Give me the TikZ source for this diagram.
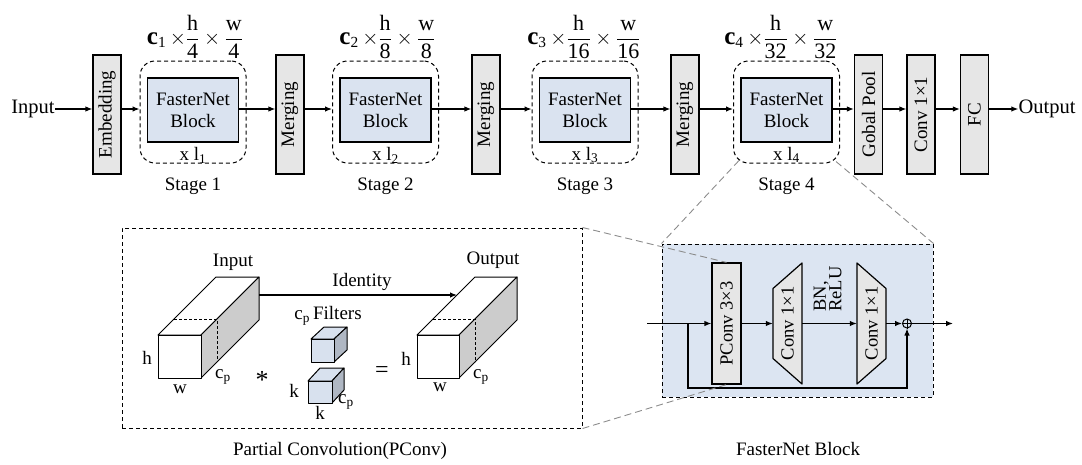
\documentclass[tikz,border=0pt]{standalone}
\usepackage{fontspec}
\usepackage{amsmath}
\setmainfont{Liberation Serif}
\usetikzlibrary{arrows.meta,calc}
\definecolor{boxgrey}{HTML}{E6E6E6}
\definecolor{blockblue}{HTML}{DAE3F0}
\definecolor{panelblue}{HTML}{DCE5F2}
\definecolor{cubegrey}{HTML}{CCCCCC}
\definecolor{filterface}{HTML}{D8E1EE}
\definecolor{filterside}{HTML}{AFB7C3}
\definecolor{zoomline}{HTML}{8C8C8C}
\newcommand{\fsz}[1]{\fontsize{#1}{#1}\selectfont}

\begin{document}
\begin{tikzpicture}[x=1pt,y=-1pt,
  every node/.style={font=\fsz{19}, inner sep=0pt},
  gbox/.style={draw, fill=boxgrey, line width=1.2pt, minimum width=28, minimum height=119},
  blk/.style={draw, fill=blockblue, line width=1.2pt, minimum width=91, minimum height=64,
              align=center, font={\fontsize{19}{22}\selectfont}},
  stagebox/.style={draw, dash pattern=on 4pt off 3pt, line width=1pt, rounded corners=15pt,
                   minimum width=106, minimum height=102},
  panel/.style={draw, dash pattern=on 4pt off 3pt, line width=1pt},
  arr/.style={-{Latex[length=7pt,width=5.5pt]}, line width=1.2pt},
  zoomed/.style={zoomline, dash pattern=on 7pt off 4pt, line width=0.9pt},
  cube/.style={draw, line width=1pt, line join=round},
  tbox/.style={minimum width=29, minimum height=121},
  trap/.style={draw, fill=boxgrey, line width=1.2pt, line join=round}
]
\useasboundingbox (0,0) rectangle (1082,464);

% ---------------- backbone ----------------
\node[font=\fsz{20.5}] (inp) at (33,109) {Input};
\node[gbox] (emb) at (107,114.5) {\rotatebox{90}{Embedding}};

% stage index / box centre / label centre / downsampling factor
\foreach \i/\x/\lx/\d in {1/193/195/4, 2/385.5/387.5/8, 3/585/584/16, 4/786.5/781/32}{
  \node[stagebox] (st\i) at (\x,112) {};
  \node[blk] (blk\i) at (\x,110) {FasterNet\\Block};
  \node (rep\i) at (\x,155) {x l\textsubscript{\i}};
  \node (stg\i) at (\x,186) {Stage \i};
  \node[font=\fsz{22}] (dim\i) at (\lx,37) {{\fsz{25}\bfseries c}\textsubscript{\i}\,%
    $\times\dfrac{\text{h}}{\text{\d}}\times\dfrac{\text{w}}{\text{\d}}$};
}

\node[gbox] (mg1) at (290,114.5) {\rotatebox{90}{Merging}};
\node[gbox] (mg2) at (486,114.5) {\rotatebox{90}{Merging}};
\node[gbox] (mg3) at (685,114.5) {\rotatebox{90}{Merging}};
\node[gbox] (gp)  at (868.5,114.5) {\rotatebox{90}{Gobal Pool}};
\node[gbox] (cv)  at (921,114.5) {\rotatebox{90}{Conv 1×1}};
\node[gbox] (fc)  at (974.5,114.5) {\rotatebox{90}{FC}};
\node[font=\fsz{20.5}] (out) at (1047,109) {Output};

\draw[arr] (inp.east) -- (emb.west |- inp);
\draw[arr] (emb.east |- inp) -- (st1.west |- inp);
\draw[arr] (blk1.east |- inp) -- (mg1.west |- inp);
\draw[arr] (mg1.east |- inp) -- (st2.west |- inp);
\draw[arr] (blk2.east |- inp) -- (mg2.west |- inp);
\draw[arr] (mg2.east |- inp) -- (st3.west |- inp);
\draw[arr] (blk3.east |- inp) -- (mg3.west |- inp);
\draw[arr] (mg3.east |- inp) -- (st4.west |- inp);
\draw[arr] (blk4.east |- inp) -- (gp.west |- inp);
\draw[arr] (gp.east |- inp) -- (cv.west |- inp);
\draw[arr] (cv.east |- inp) -- (fc.west |- inp);
\draw[arr] (fc.east |- inp) -- (out.west);

% ---------------- partial convolution panel ----------------
\node[panel, minimum width=460, minimum height=200] (pc) at (352,328) {};
\node (pclab) at (340,451) {Partial Convolution(PConv)};

% input feature map
\draw[cube, fill=white] (158,335) -- (201,335) -- (259,277) -- (216,277) -- cycle;
\draw[cube, fill=cubegrey] (201,335) -- (259,277) -- (259,320) -- (201,378) -- cycle;
\draw[cube, fill=white] (158,335) rectangle (201,378);
\draw[line width=0.9pt, dash pattern=on 3pt off 2pt] (174,319) -- (217,319) -- (217,362);

% output feature map
\draw[cube, fill=white] (417,335) -- (459,335) -- (517,277) -- (475,277) -- cycle;
\draw[cube, fill=cubegrey] (459,335) -- (517,277) -- (517,320) -- (459,378) -- cycle;
\draw[cube, fill=white] (417,335) rectangle (459,378);
\draw[line width=0.9pt, dash pattern=on 3pt off 2pt] (433,319) -- (475,319) -- (475,362);

% filters
\draw[cube, fill=filterface] (311,339) -- (334,339) -- (347,327) -- (324,327) -- cycle;
\draw[cube, fill=filterside] (334,339) -- (347,327) -- (347,350) -- (334,362) -- cycle;
\draw[cube, fill=filterface] (311,339) rectangle (334,362);
\draw[cube, fill=filterface] (308,381) -- (332,381) -- (344,368) -- (320,368) -- cycle;
\draw[cube, fill=filterside] (332,381) -- (344,368) -- (344,390) -- (332,403) -- cycle;
\draw[cube, fill=filterface] (308,381) rectangle (332,403);

\coordinate (idA) at (259,295);
\coordinate (idB) at (457,295);
\draw[arr] (idA) -- (idB);

\node (tin)  at (233,262) {Input};
\node (tid)  at (362,282) {Identity};
\node (tout) at (493,260) {Output};
\node (h1) at (147,358) {h};
\node (w1) at (180,389) {w};
\node (c1) at (223,377) {c\textsubscript{p}};
\node[font=\fsz{26}] (star) at (262,380) {*};
\node (filt) at (328,316) {c\textsubscript{p}\,Filters};
\node (k1) at (294,391) {k};
\node (k2) at (320,413) {k};
\node (c2) at (346,402) {c\textsubscript{p}};
\node[font=\fsz{24}] (eq) at (382,372) {=};
\node (h2) at (406,359) {h};
\node (w2) at (440,387) {w};
\node (c3) at (481,377) {c\textsubscript{p}};

% ---------------- FasterNet block panel ----------------
\node[panel, fill=panelblue, minimum width=271, minimum height=153] (fb) at (797.5,320.5) {};
\node (fblab) at (798,449) {FasterNet Block};

\draw[trap] (773,288.5) -- (802,263) -- (802,384) -- (773,358.5) -- cycle;
\draw[trap] (857,263) -- (886,288.5) -- (886,358.5) -- (857,384) -- cycle;

\node[gbox, minimum width=29, minimum height=121, font=\fsz{18.5}] (pcv) at (726.5,323.5)
  {\rotatebox{90}{PConv 3×3}};
\node[tbox, font=\fsz{18.5}] (cva) at (787.5,323.5) {\rotatebox{90}{Conv 1×1}};
\node[tbox, font=\fsz{18.5}] (cvb) at (871.5,323.5) {\rotatebox{90}{Conv 1×1}};
\node[font=\fsz{18.5}] (bnr) at (830,289) {\rotatebox{90}{\begin{tabular}{@{}l@{}}BN,\\[-3pt]ReLU\end{tabular}}};
\node[circle, draw, line width=1pt, minimum size=9] (add) at (907,323.5) {};
\draw[line width=0.8pt] (add.north) -- (add.south) (add.west) -- (add.east);

\coordinate (fin) at (647,323.5);
\coordinate (split) at (688,323.5);
\coordinate (byp) at (907,388);
\coordinate (fout) at (953,323.5);
\draw[arr] (fin) -- (pcv.west);
\draw[arr] (pcv.east) -- (cva.west);
\draw[arr] (cva.east) -- (cvb.west);
\draw[arr] (cvb.east) -- (add.west);
\draw[arr] (add.east) -- (fout);
\draw[arr] (split) |- (byp) -- (add.south);

% zoom guides
\draw[zoomed] ($(st4.south west)+(6,-3)$) -- (fb.north west);
\draw[zoomed] ($(st4.south east)+(-4,-2)$) -- (fb.north east);
\draw[zoomed] (pc.north east) -- (pcv.north);
\draw[zoomed] (pc.south east) -- (pcv.south);
\end{tikzpicture}
\end{document}
